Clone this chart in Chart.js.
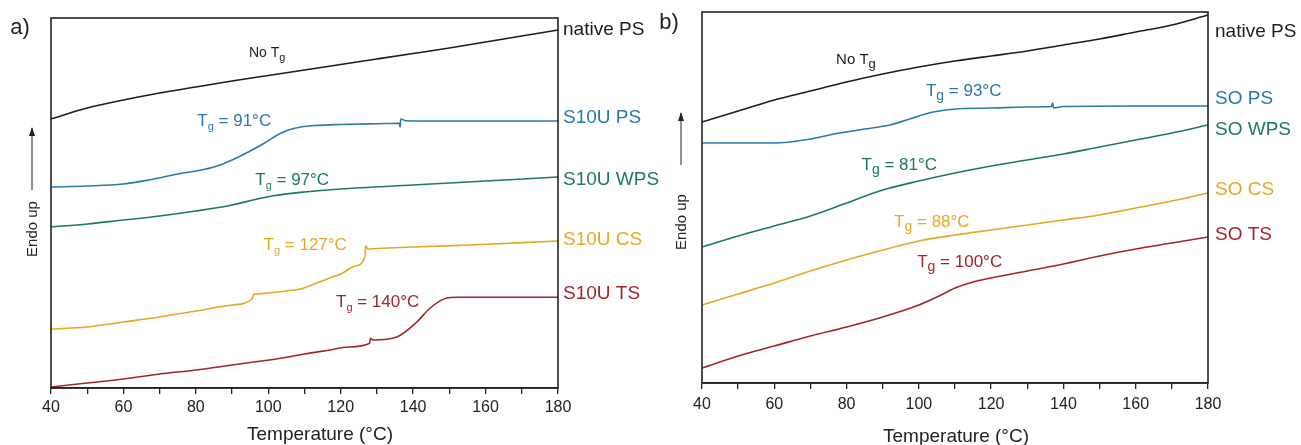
<!DOCTYPE html>
<html>
<head>
<meta charset="utf-8">
<script src="https://cdn.jsdelivr.net/npm/chart.js@4.4.1/dist/chart.umd.min.js"></script>
<style>
  html, body { margin: 0; padding: 0; background: #fff; }
  #wrap { position: relative; width: 1301px; height: 445px; }
  #boxA { position: absolute; left: 0; top: 0; width: 700px; height: 445px; }
  #boxB { position: absolute; left: 652px; top: 0; width: 649px; height: 445px; }
</style>
</head>
<body>
<div id="wrap">
  <div id="boxA"><canvas id="chartA"></canvas></div>
  <div id="boxB"><canvas id="chartB"></canvas></div>
</div>
<script>
// Data panel a (S10U) - sumbu y dalam satuan relatif (endo up)
const tA_native = [40, 50, 60, 70, 80, 90, 100, 110, 120, 130, 140, 150, 160, 170, 180];
const yA_native = [269, 280, 288, 295, 301, 307, 312.5, 318, 323.5, 329, 334.5, 340, 346, 352, 358];
const tA_ps = [40, 50, 60, 67, 75, 80, 85, 90, 95, 99, 103, 106, 109, 113, 120, 130, 136.2, 136.4, 136.6, 138, 150, 165, 180];
const yA_ps = [201, 202, 204, 208, 214, 217, 221, 228, 237, 245, 254, 258.5, 261, 262.5, 263.5, 264.3, 264.7, 261, 269, 267.3, 267, 267, 267];
const tA_wps = [40, 50, 60, 70, 80, 90, 97, 101, 110, 120, 140, 160, 180];
const yA_wps = [161, 164, 168, 172, 177, 183, 189, 192, 196, 199, 203, 207, 211];
const tA_cs = [40, 50, 60, 70, 80, 90, 95.5, 96, 96.6, 100, 105, 109, 112, 117, 120, 124, 126.7, 126.9, 127.5, 130, 140, 155.7, 180];
const yA_cs = [59, 61, 66, 71, 77, 83, 89, 94, 94, 95, 97, 99, 103, 110, 114, 122, 131, 142.3, 139, 139.5, 141, 143, 147];
const tA_ts = [40, 50, 60, 70, 80, 90, 96, 104, 110, 117, 122, 128, 128.2, 129, 135.5, 141, 144.7, 149.3, 152, 165, 180];
const yA_ts = [1, 5, 9, 14, 18, 23, 26, 30, 34, 38, 41, 44.7, 49.7, 48, 51, 66, 80, 90, 90.7, 90.7, 90.7];

// Data panel b (SO)
const tB = [40, 50, 60, 70, 80, 90, 100, 110, 120, 130, 140, 150, 160, 170, 180];
const yB_native = [261, 272, 283, 292, 301, 309, 316, 322, 327, 332, 338, 344, 351, 358, 368];
const tB_ps = [40, 50, 60, 70, 78, 87, 92, 96.6, 100, 104, 110, 120, 130, 136.7, 137, 137.3, 140, 160, 180];
const yB_ps = [240, 240, 240, 244, 250, 255, 258, 263, 267, 271, 274, 275, 276, 276.5, 280, 275, 276.5, 277, 277];
const yB_wps = [136, 147, 157, 167, 180, 193, 202, 210, 217, 223, 229, 236, 243, 250, 258];
const yB_cs = [78, 89, 100, 112, 123, 133, 142, 148, 153, 158, 163, 168, 175, 182, 190];
const tB_ts = [40, 50, 60, 70, 80, 90, 100, 105, 110, 115, 120, 130, 140, 150, 160, 170, 180];
const yB_ts = [15, 27, 37, 47, 56, 66, 78, 86, 95, 101, 105, 112, 119, 127, 134, 140, 146];

// Label seri dan nilai Tg
const namesA = ['native PS', 'S10U PS', 'S10U WPS', 'S10U CS', 'S10U TS'];
const namesB = ['native PS', 'SO PS', 'SO WPS', 'SO CS', 'SO TS'];
const tgA = ['91', '97', '127', '140'];
const tgB = ['93', '81', '88', '100'];
const xTicks = [40, 60, 80, 100, 120, 140, 160, 180];

const warna = ['#1c1c1c', '#2a79a8', '#1b7a5c', '#e6a823', '#a3252b'];
const FONT = "'Liberation Sans', Arial, Helvetica, sans-serif";

const toPts = (xs, ys) => xs.map((x, i) => ({ x: x, y: ys[i] }));

// Teks "T" + subskrip "g" + sisa label, rata tengah di (cx, cy)
function drawTg(ctx, cx, cy, head, label, color, size, subScale, subDrop) {
    ctx.save();
    ctx.fillStyle = color;
    ctx.textBaseline = 'middle';
    ctx.textAlign = 'left';
    const fMain = size + 'px ' + FONT;
    const fSub = Math.round(size * subScale) + 'px ' + FONT;
    ctx.font = fMain;
    const wHead = ctx.measureText(head).width;
    const wRest = ctx.measureText(label).width;
    ctx.font = fSub;
    const wG = ctx.measureText('g').width;
    let x = cx - (wHead + wG + wRest) / 2;
    ctx.font = fMain;
    ctx.fillText(head, x, cy);
    x += wHead;
    ctx.font = fSub;
    ctx.fillText('g', x, cy + size * subDrop);
    x += wG;
    ctx.font = fMain;
    if (label) ctx.fillText(label, x, cy);
    ctx.restore();
}

// Plugin dekorasi: bingkai, label kanan, anotasi Tg, judul sumbu
const decorPlugin = {
    id: 'decor',
    afterDatasetsDraw(chart, args, o) {
        const { ctx, chartArea: a, scales: { x, y } } = chart;
        ctx.save();
        ctx.strokeStyle = '#222';
        ctx.lineWidth = 1.6;
        ctx.strokeRect(a.left, a.top, a.right - a.left, a.bottom - a.top);

        // label seri di kanan
        ctx.font = '19px ' + FONT;
        ctx.textBaseline = 'middle';
        ctx.textAlign = 'left';
        o.names.forEach((n, i) => {
            ctx.fillStyle = warna[i];
            ctx.fillText(n, a.right + o.nameGap, y.getPixelForValue(o.nameY[i]));
        });

        // No Tg
        drawTg(ctx, x.getPixelForValue(o.noTg[0]), y.getPixelForValue(o.noTg[1]), 'No T', '',
            warna[0], o.noTgSize, o.noSub, o.noDrop);

        // anotasi Tg
        o.tgPos.forEach((p, i) => {
            drawTg(ctx, x.getPixelForValue(p[0]), y.getPixelForValue(p[1]), 'T', o.eq + o.tg[i] + '\u00b0C',
                warna[i + 1], 17, o.subScale, o.subDrop);
        });

        // judul sumbu x
        ctx.fillStyle = '#222';
        ctx.font = '19px ' + FONT;
        ctx.textAlign = 'center';
        ctx.fillText('Temperature (\u00b0C)', o.titleX, o.titleY);

        // huruf panel
        ctx.font = '22px ' + FONT;
        ctx.fillText(o.letter, o.letterPos[0], o.letterPos[1]);

        // Endo up + panah
        ctx.save();
        ctx.translate(o.endo[0], o.endo[1]);
        ctx.rotate(-Math.PI / 2);
        ctx.font = '15px ' + FONT;
        ctx.fillText('Endo up', 0, 0);
        ctx.restore();
        ctx.strokeStyle = '#222';
        ctx.lineWidth = 1;
        ctx.beginPath();
        ctx.moveTo(o.endo[0] - 1, o.arrow[0]);
        ctx.lineTo(o.endo[0] - 1, o.arrow[1]);
        ctx.stroke();
        ctx.fillStyle = '#222';
        ctx.beginPath();
        ctx.moveTo(o.endo[0] - 1, o.arrow[1] - 1);
        ctx.lineTo(o.endo[0] - 4, o.arrow[1] + 8);
        ctx.lineTo(o.endo[0] + 2, o.arrow[1] + 8);
        ctx.closePath();
        ctx.fill();
        ctx.restore();
    }
};

function buildChart(id, series, cfg) {
    return new Chart(document.getElementById(id), {
        type: 'line',
        data: {
            datasets: series.map((s, i) => ({
                data: s,
                borderColor: warna[i],
                borderWidth: 1.6,
                pointRadius: 0,
                fill: false,
                cubicInterpolationMode: 'monotone'
            }))
        },
        options: {
            responsive: true,
            maintainAspectRatio: false,
            animation: false,
            events: [],
            layout: { padding: { left: cfg.padL, right: cfg.padR, top: cfg.padT, bottom: 0 } },
            plugins: {
                legend: { display: false },
                tooltip: { enabled: false },
                decor: cfg.decor
            },
            scales: {
                x: {
                    type: 'linear', min: 40, max: 180,
                    afterBuildTicks: s => { s.ticks = []; for (let v = 40; v <= 180; v += 10) s.ticks.push({ value: v }); },
                    ticks: {
                        autoSkip: false, maxRotation: 0, padding: cfg.tickPad, color: '#222',
                        font: { family: FONT, size: 16 },
                        callback: v => xTicks.includes(v) ? String(v) : ''
                    },
                    grid: { drawOnChartArea: false, drawTicks: true, tickLength: 6, color: '#222', lineWidth: 1.3 },
                    border: { display: true, color: '#222', width: 1.6 },
                    afterFit: s => { s.height = cfg.axisH; }
                },
                y: { display: false, min: 0, max: cfg.yMax }
            }
        },
        plugins: [decorPlugin]
    });
}

buildChart('chartA', [
    toPts(tA_native, yA_native), toPts(tA_ps, yA_ps), toPts(tA_wps, yA_wps),
    toPts(tA_cs, yA_cs), toPts(tA_ts, yA_ts)
], {
    padL: 51, padR: 142, padT: 18, axisH: 57, tickPad: 4, yMax: 370,
    decor: {
        names: namesA, nameY: [358, 270, 208, 148, 94], nameGap: 5,
        noTg: [99.7, 335], noTgSize: 14, noSub: 0.75, noDrop: 0.35,
        tg: tgA, eq: ' = ', tgPos: [[90.6, 267], [106.6, 208], [110.2, 143], [130.2, 86]],
        subScale: 0.65, subDrop: 0.35,
        titleX: 320, titleY: 435, letter: 'a)', letterPos: [20, 28],
        endo: [33, 229], arrow: [190, 128]
    }
});

buildChart('chartB', [
    toPts(tB, yB_native), toPts(tB_ps, yB_ps), toPts(tB, yB_wps),
    toPts(tB, yB_cs), toPts(tB_ts, yB_ts)
], {
    padL: 50, padR: 93, padT: 12, axisH: 62, tickPad: 6, yMax: 371,
    decor: {
        names: namesB, nameY: [351, 284, 253, 193, 148], nameGap: 7,
        noTg: [82.6, 323], noTgSize: 15, noSub: 0.85, noDrop: 0.3,
        tg: tgB, eq: ' = ', tgPos: [[112.4, 292], [94.6, 218], [103.6, 161], [111.3, 121]],
        subScale: 0.85, subDrop: 0.3,
        titleX: 304, titleY: 437, letter: 'b)', letterPos: [17, 23],
        endo: [30, 222], arrow: [165, 113]
    }
});
</script>
</body>
</html>
